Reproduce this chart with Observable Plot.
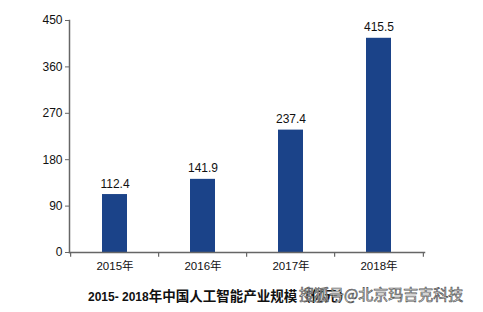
<!DOCTYPE html>
<html><head><meta charset="utf-8">
<script src="https://cdn.jsdelivr.net/npm/d3@7"></script>
<script src="https://cdn.jsdelivr.net/npm/@observablehq/plot@0.6"></script>
<style>
body{margin:0;background:#fff;font-family:"Liberation Sans",Arial,sans-serif;}
#wrap{position:relative;width:483px;height:312px;}
#title{position:absolute;left:88px;top:285px;font-weight:bold;font-size:12px;color:#111;white-space:nowrap;font-family:"Liberation Sans","Noto Sans CJK SC",sans-serif;}
#title .cjk{font-size:13.5px;}
#wm{position:absolute;left:299px;top:283px;font-size:15px;color:#fff;-webkit-text-stroke:0.7px #555;white-space:nowrap;font-family:"Noto Sans CJK SC",sans-serif;}
</style></head>
<body><div id="wrap"></div>
<script>
const years = ["2015年","2016年","2017年","2018年"];
const values = [112.4, 141.9, 237.4, 415.5];
const yTicks = [0, 90, 180, 270, 360, 450];
const titleText = "2015- 2018年中国人工智能产业规模（亿元）";
const watermark = "搜狐号@北京玛吉克科技";

const data = years.map((y, i) => ({year: y, value: values[i]}));
const bw = (424 - 69) / years.length;
const chart = Plot.plot({
  width: 483, height: 312,
  marginTop: 20, marginBottom: 60, marginLeft: 69, marginRight: 59,
  style: {fontFamily: '"Liberation Sans", "Noto Sans CJK SC", sans-serif', background: "#fff"},
  x: {domain: years, paddingInner: 0.72, paddingOuter: 0.36, label: null},
  y: {domain: [0, 450], label: null},
  marks: [
    Plot.barY(data, {x: "year", y: "value", fill: "#1b4389"}),
    Plot.text(data, {x: "year", y: "value", text: d => d.value.toFixed(1), lineAnchor: "bottom", dy: -7, fontSize: 12, fill: "#111"}),
    Plot.axisY({ticks: yTicks, tickSize: 4, tickPadding: 3, fontSize: 12, stroke: "#666", color: "#111"}),
    Plot.frame({anchor: "left", stroke: "#666", strokeWidth: 1.5}),
    Plot.frame({anchor: "bottom", stroke: "#666", strokeWidth: 1.5}),
    Plot.axisX({tickSize: 0, tickPadding: 9, fontSize: 11.5, color: "#111"}),
    Plot.ruleX(years, {x: d => d, dx: -bw / 2, y1: 0, y2: -9, stroke: "#666", strokeWidth: 1.2}),
    Plot.ruleX([years[years.length - 1]], {x: d => d, dx: bw / 2, y1: 0, y2: -9, stroke: "#666", strokeWidth: 1.2})
  ]
});
const wrap = document.getElementById("wrap");
wrap.appendChild(chart);
const t = document.createElement("div");
t.id = "title";
const m = titleText.match(/^([0-9\- ]+)(.*)$/);
t.innerHTML = m[1] + '<span class="cjk">' + m[2] + '</span>';
wrap.appendChild(t);
const w = document.createElement("div");
w.id = "wm"; w.textContent = watermark;
wrap.appendChild(w);
</script></body></html>
